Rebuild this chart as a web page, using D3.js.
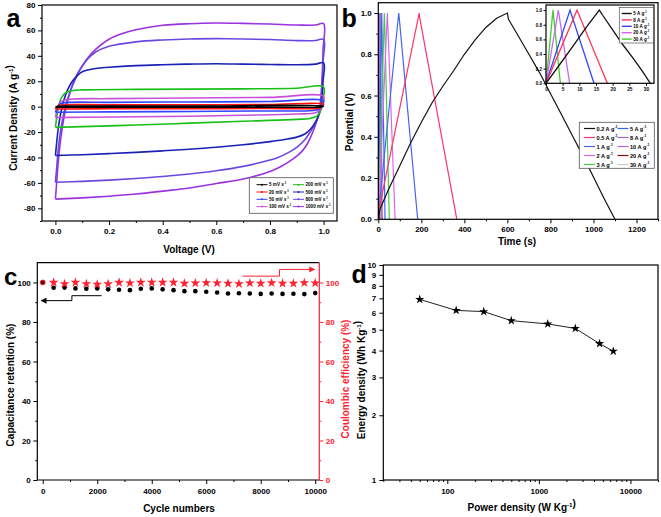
<!DOCTYPE html>
<html><head><meta charset="utf-8">
<script src="https://cdn.jsdelivr.net/npm/d3@7"></script>
<style>
body{margin:0;background:#fff}
svg{display:block}
text{font-family:"Liberation Sans",Arial,sans-serif;font-weight:bold}
</style>
</head><body>
<svg id="chart" width="661" height="517"></svg>
<script>
// ---------- Panel a: CV curves (Voltage V, Current density A/g) ----------
const cvRates = ["5","20","50","100","200","500","800","1000"];
const cvColors = ["#000000","#FF1010","#3343FF","#C850D8","#18C018","#1A22B4","#6A48E0","#9A32E0"];
const cv5 = [[0,-0.5],[0.01,0.2],[0.03,0.4],[0.5,0.4],[1.0,0.5],[0.99,-0.2],[0.97,-0.4],[0.5,-0.4],[0,-0.5]];
const cv20 = [[0,-1.8],[0.008,0],[0.02,1.2],[0.2,1.4],[0.5,1.5],[0.8,1.6],[1.0,1.9],[0.993,0],[0.98,-1.2],[0.8,-1.4],[0.5,-1.6],[0.2,-1.7],[0,-1.9]];
const cv50 = [[0,-4.3],[0.006,-1.5],[0.015,1.8],[0.03,3],[0.2,3.4],[0.5,3.7],[0.8,4],[1.0,4.5],[0.995,1],[0.985,-1.8],[0.96,-3],[0.8,-3.4],[0.5,-3.8],[0.2,-4.1],[0,-4.4]];
const cv100 = [[0,-8.5],[0.005,-4],[0.012,1],[0.025,4.5],[0.05,5.8],[0.2,6.3],[0.5,6.8],[0.8,7.3],[1.0,8],[0.996,2],[0.988,-2.5],[0.97,-4.8],[0.9,-5.8],[0.7,-6.8],[0.5,-7.5],[0.3,-8],[0.1,-8.4],[0,-8.6]];
const cv200 = [[0,-16],[0.004,-10],[0.01,-2],[0.02,6],[0.035,10.5],[0.06,12.5],[0.1,13.2],[0.3,13.6],[0.5,13.8],[0.7,14],[0.9,14.5],[1.0,15.5],[0.997,5],[0.99,-3],[0.975,-7.5],[0.95,-9.3],[0.9,-10],[0.7,-11.5],[0.5,-13],[0.3,-14.5],[0.1,-15.7],[0,-16.3]];
const cv500 = [[0,-38.5],[0.004,-30],[0.01,-18],[0.02,-5],[0.03,4],[0.045,13],[0.06,19],[0.08,24],[0.1,27.5],[0.15,30],[0.2,31],[0.3,32.3],[0.4,33],[0.5,33.5],[0.6,33.8],[0.7,33.5],[0.8,33.2],[0.9,33],[0.97,33.5],[1.0,34.5],[0.998,20],[0.994,5],[0.985,-5],[0.97,-12],[0.95,-18],[0.93,-21.5],[0.9,-24],[0.85,-26],[0.8,-27.5],[0.7,-30],[0.6,-32],[0.5,-33.5],[0.4,-34.8],[0.3,-36],[0.2,-37],[0.1,-37.8],[0,-38.5]];
const cv800 = [[0,-59.5],[0.004,-50],[0.01,-35],[0.02,-18],[0.035,-2],[0.05,9],[0.075,22],[0.1,32],[0.125,38.5],[0.15,43],[0.2,47.5],[0.3,51],[0.4,52.5],[0.5,53.3],[0.6,53.5],[0.7,53.3],[0.8,52.8],[0.9,52],[0.97,52],[1.0,53],[0.998,35],[0.994,15],[0.99,2],[0.98,-8],[0.965,-15],[0.95,-20],[0.93,-26],[0.9,-32],[0.87,-36],[0.83,-40],[0.8,-42],[0.7,-47],[0.6,-50.5],[0.5,-53],[0.4,-55],[0.3,-56.5],[0.2,-57.8],[0.1,-58.8],[0,-59.5]];
const cv1000 = [[0,-72.5],[0.004,-62],[0.01,-45],[0.02,-25],[0.035,-5],[0.05,8],[0.075,23],[0.1,32],[0.125,39.5],[0.15,45],[0.2,53],[0.25,57.5],[0.3,60.5],[0.4,64],[0.5,65.3],[0.6,65.8],[0.7,65.5],[0.8,65],[0.9,64.3],[0.97,64.2],[1.0,65.3],[0.998,45],[0.995,25],[0.99,8],[0.985,-2],[0.975,-11],[0.96,-20],[0.94,-29],[0.92,-35],[0.9,-39],[0.87,-43.5],[0.85,-46],[0.8,-51],[0.7,-57],[0.6,-60.5],[0.5,-64],[0.4,-66.5],[0.3,-68.8],[0.2,-70.5],[0.1,-71.8],[0,-72.8]];
const cvSeries = [cv5,cv20,cv50,cv100,cv200,cv500,cv800,cv1000];

// ---------- Panel b: GCD curves (Time s, Potential V) ----------
const cdRates = ["0.2","0.5","1","2","3","5","8","10","20","30"];
const cdColors = ["#111111","#FF3366","#4466EE","#DD66EE","#44CC44","#3366FF","#9966DD","#BB66DD","#7A1010","#C8C8C8"];
const cd02 = [[0,0],[8,0.05],[50,0.15],[100,0.26],[150,0.37],[200,0.47],[250,0.565],[300,0.645],[350,0.72],[400,0.8],[450,0.87],[500,0.93],[550,0.975],[600,1.0],[605,0.97],[650,0.89],[700,0.80],[750,0.71],[800,0.61],[850,0.51],[900,0.41],[950,0.31],[1000,0.205],[1050,0.10],[1100,0]];
const cd05 = [[0,0],[2,0.04],[190,1.0],[192,0.98],[365,0]];
const cd1 = [[0,0],[1,0.03],[95,1.0],[97,0.98],[183,0]];
const cd2 = [[0,0],[42,1.0],[43,0.98],[78,0]];
const cd3 = [[0,0],[28,1.0],[29,0.98],[51,0]];
const cd5 = [[0,0],[4,0.25],[8,0.5],[12,0.76],[16,1.0],[17,0.93],[20,0.73],[23,0.53],[26,0.35],[29,0.16],[31.3,0]];
const cd8 = [[0,0],[9.3,1.0],[18.4,0]];
const cd10 = [[0,0],[7.2,1.0],[14.4,0]];
const cd20 = [[0,0],[3.7,1.0],[7.1,0]];
const cd30 = [[0,0],[2.1,1.0],[4.3,0]];
const cdSeries = [cd02,cd05,cd1,cd2,cd3,cd5,cd8,cd10,cd20,cd30];
const insetRates = ["5","8","10","20","30"];
const insetColors = ["#111111","#FF3355","#3344FF","#CC66EE","#44CC33"];
const insetSeries = [cd5,cd8,cd10,cd20,cd30];

// ---------- Panel c: cycling ----------
const cycles = [0,400,800,1200,1600,2000,2400,2800,3200,3600,4000,4400,4800,5200,5600,6000,6400,6800,7200,7600,8000,8400,8800,9200,9600,10000];
const retention = [100,97.3,97.4,97.0,96.8,97.0,96.5,96.3,96.1,96.8,97.0,96.5,96.1,95.6,95.6,95.3,94.9,94.4,94.5,94.4,94.2,94.4,94.2,94.3,94.1,94.6];
const efficiency = [100,100,99.3,100,99.3,99.0,99.3,100,99.7,100,100,100,100,99.5,99.7,99.8,99.7,99.5,99.3,99.7,99.5,99.8,99.5,99.5,99.8,99.7];

// ---------- Panel d: Ragone ----------
const power = [50,125,250,500,1250,2500,4600,6500];
const energy = [6.92,6.15,6.07,5.51,5.32,5.07,4.31,3.97];

// ================= drawing =================
const svg = d3.select("#chart");

function rich(sel, parts, fs){
  parts.forEach(p=>{
    if (Array.isArray(p)) {
      sel.append("tspan").attr("font-size", fs*0.62).attr("dy", -fs*0.4).text(p[0]);
      sel.append("tspan").attr("font-size", fs).attr("dy", fs*0.4).text("");
    } else sel.append("tspan").text(p);
  });
  return sel;
}
function label(g, x, y, parts, fs, opt={}){
  const t = g.append("text").attr("x",x).attr("y",y).attr("font-size",fs)
    .attr("text-anchor", opt.anchor||"middle").attr("fill", opt.color||"#000");
  if (opt.rotate) t.attr("transform",`rotate(-90,${x},${y})`);
  return rich(t, parts, fs);
}
function axis(g, orient, scale, pos, values, size, fmt, fs, pad, color){
  const gen = (orient==="bottom"?d3.axisBottom:orient==="left"?d3.axisLeft:d3.axisRight)(scale)
    .tickValues(values).tickSize(size).tickSizeOuter(0).tickPadding(pad||2)
    .tickFormat(fmt || (()=> ""));
  const a = g.append("g").attr("transform", orient==="bottom"?`translate(0,${pos})`:`translate(${pos},0)`).call(gen);
  a.select(".domain").remove();
  a.attr("font-family",null).attr("font-size",fs||8).attr("font-weight","bold");
  a.selectAll("line").attr("stroke", color||"#000").attr("stroke-width",1);
  a.selectAll("text").attr("fill", color||"#000");
  return a;
}
function frame(g, x, y, color){
  const [x0,x1] = x.range(), [y1,y0] = y.range();
  g.append("rect").attr("x",x0).attr("y",y0).attr("width",x1-x0).attr("height",y1-y0)
   .attr("fill","none").attr("stroke",color||"#000").attr("stroke-width",1.2);
}
function clip(id, x, y){
  const [x0,x1] = x.range(), [y1,y0] = y.range();
  svg.append("clipPath").attr("id",id).append("rect").attr("x",x0).attr("y",y0).attr("width",x1-x0).attr("height",y1-y0);
}
const fmtPlain = d => String(d);
const fmt1 = d3.format(".1f");

// ---------- a ----------
{
  const g = svg.append("g");
  const x = d3.scaleLinear().domain([-0.05,1.05]).range([42,337]);
  const y = d3.scaleLinear().domain([-90,80]).range([221,5]);
  clip("ca", x, y);
  const line = d3.line().x(d=>x(d[0])).y(d=>y(d[1])).curve(d3.curveCatmullRom.alpha(0.5));
  const pg = g.append("g").attr("clip-path","url(#ca)");
  for (let i = cvSeries.length-1; i>=0; i--) {
    pg.append("path").attr("d", line(cvSeries[i])).attr("fill","none")
      .attr("stroke", cvColors[i]).attr("stroke-width",1.6);
  }
  axis(g,"bottom",x,221,d3.range(0,1.01,0.2),4,fmt1,8,3.5);
  axis(g,"bottom",x,221,d3.range(0.1,1.01,0.2),2);
  axis(g,"left",y,42,d3.range(-80,81,20),4,fmtPlain,8,2.5);
  axis(g,"left",y,42,d3.range(-90,81,20),2);
  frame(g,x,y);
  label(g,189,252.5,["Voltage (V)"],10);
  label(g,17,118,["Current Density (A g",["-1"],")"],10,{rotate:true});
  label(g,6.5,27.3,["a"],25,{anchor:"start"});
  // legend
  const lg = g.append("g");
  lg.append("rect").attr("x",249.3).attr("y",177.7).attr("width",84).attr("height",35.6)
    .attr("fill","#fff").attr("stroke","#555").attr("stroke-width",0.8);
  cvRates.forEach((r,i)=>{
    const col = Math.floor(i/4), row = i%4;
    const lx = col ? 293 : 256.5, ly = 184.7 + row*7.3;
    lg.append("line").attr("x1",lx).attr("x2",lx+11).attr("y1",ly).attr("y2",ly)
      .attr("stroke",cvColors[i]).attr("stroke-width",1);
    lg.append("circle").attr("cx",lx+5.5).attr("cy",ly).attr("r",1).attr("fill",cvColors[i]);
    label(lg,lx+12.5,ly+1.6,[r+" mV s",["-1"]],4.6,{anchor:"start"});
  });
}

// ---------- b ----------
{
  const g = svg.append("g");
  const x = d3.scaleLinear().domain([0,1300]).range([378.3,658]);
  const y = d3.scaleLinear().domain([0,1.05]).range([219.3,2.7]);
  clip("cb", x, y);
  const line = d3.line().x(d=>x(d[0])).y(d=>y(d[1]));
  const pg = g.append("g").attr("clip-path","url(#cb)");
  for (let i = cdSeries.length-1; i>=0; i--) {
    pg.append("path").attr("d", line(cdSeries[i])).attr("fill","none")
      .attr("stroke", cdColors[i]).attr("stroke-width",1.2);
  }
  axis(g,"bottom",x,219.3,d3.range(0,1201,200),4,fmtPlain,8,3.5);
  axis(g,"bottom",x,219.3,d3.range(100,1301,200),2);
  axis(g,"left",y,378.3,d3.range(0,1.01,0.2),4,fmt1,8,2.5);
  axis(g,"left",y,378.3,d3.range(0.1,1.01,0.2),2);
  frame(g,x,y);
  label(g,517,245,["Time (s)"],10);
  label(g,352.6,122,["Potential (V)"],10,{rotate:true});
  label(g,341.5,27.3,["b"],25,{anchor:"start"});
  // legend
  const lg = g.append("g");
  lg.append("rect").attr("x",579.3).attr("y",122.3).attr("width",75).attr("height",46)
    .attr("fill","#fff").attr("stroke","#555").attr("stroke-width",0.8);
  cdRates.forEach((r,i)=>{
    const col = Math.floor(i/5), row = i%5;
    const lx = col ? 617.5 : 584, ly = 128.5 + row*9;
    lg.append("line").attr("x1",lx).attr("x2",lx+11).attr("y1",ly).attr("y2",ly)
      .attr("stroke",cdColors[i]).attr("stroke-width",1.2);
    label(lg,lx+12.5,ly+2,[r+" A g",["-1"]],5.6,{anchor:"start"});
  });
  // inset
  const ix = d3.scaleLinear().domain([0,32.4]).range([546,654]);
  const iy = d3.scaleLinear().domain([0,1.07]).range([83.3,5]);
  const ig = g.append("g");
  ig.append("rect").attr("x",546).attr("y",5).attr("width",108).attr("height",78.3).attr("fill","#fff");
  const il = d3.line().x(d=>ix(d[0])).y(d=>iy(d[1]));
  for (let i = insetSeries.length-1; i>=0; i--) {
    ig.append("path").attr("d", il(insetSeries[i])).attr("fill","none")
      .attr("stroke", insetColors[i]).attr("stroke-width",1.3);
  }
  axis(ig,"bottom",ix,83.3,d3.range(0,31,5),2.5,fmtPlain,4.8,2);
  axis(ig,"left",iy,546,d3.range(0,1.01,0.2),2.5,fmt1,4.5,1.5);
  frame(ig,ix,iy);
  const il2 = ig.append("g");
  il2.append("rect").attr("x",619.3).attr("y",7.5).attr("width",34).attr("height",35.5)
    .attr("fill","#fff").attr("stroke","#555").attr("stroke-width",0.7);
  insetRates.forEach((r,i)=>{
    const ly = 13.5 + i*6.4;
    il2.append("line").attr("x1",621.7).attr("x2",631.7).attr("y1",ly).attr("y2",ly)
      .attr("stroke",insetColors[i]).attr("stroke-width",1.4);
    label(il2,633.3,ly+1.6,[r+" A g",["-1"]],4.6,{anchor:"start"});
  });
}

// ---------- c ----------
{
  const g = svg.append("g");
  const x = d3.scaleLinear().domain([-200,10150]).range([37.3,319.3]);
  const y = d3.scaleLinear().domain([0,110]).range([480,262.7]);
  axis(g,"bottom",x,480,d3.range(0,10001,2000),4,fmtPlain,8,4);
  axis(g,"bottom",x,480,d3.range(1000,10001,2000),2);
  axis(g,"left",y,37.3,d3.range(0,101,20),4,fmtPlain,8,2.5);
  axis(g,"left",y,37.3,d3.range(10,101,20),2);
  axis(g,"right",y,319.3,d3.range(0,101,20),4,fmtPlain,8,2.5,"#FF2030");
  axis(g,"right",y,319.3,d3.range(10,101,20),2,null,8,2,"#FF2030");
  const [x0,x1]=x.range(),[y1,y0]=y.range();
  g.append("path").attr("d",`M${x1},${y0}H${x0}V${y1}H${x1}`).attr("fill","none").attr("stroke","#000").attr("stroke-width",1.2);
  g.append("line").attr("x1",x1).attr("x2",x1).attr("y1",y0).attr("y2",y1).attr("stroke","#FF2030").attr("stroke-width",1.2);
  g.selectAll("circle.ret").data(cycles).join("circle").attr("class","ret")
    .attr("cx",(d)=>x(d)).attr("cy",(d,i)=>y(retention[i])).attr("r",2.3).attr("fill","#000");
  const star = d3.symbol().type(d3.symbolStar).size(30);
  g.selectAll("path.eff").data(cycles.slice(1)).join("path").attr("class","eff")
    .attr("d",star).attr("transform",(d,i)=>`translate(${x(d)},${y(efficiency[i+1])})`).attr("fill","#FF2030");
  g.append("circle").attr("cx",x(cycles[0])).attr("cy",y(efficiency[0])).attr("r",2.4)
    .attr("fill","#600").attr("stroke","#FF2030").attr("stroke-width",1);
  // arrows
  const defs = svg.append("defs");
  [["ab","#000"],["ar","#FF2030"]].forEach(([id,c])=>{
    defs.append("marker").attr("id",id).attr("viewBox","0 0 10 10").attr("refX",9).attr("refY",5)
      .attr("markerWidth",6).attr("markerHeight",6).attr("orient","auto-start-reverse").attr("markerUnits","userSpaceOnUse")
      .append("path").attr("d","M0,0L10,5L0,10z").attr("fill",c);
  });
  const al = d3.line().x(d=>x(d[0])).y(d=>y(d[1]));
  g.append("path").attr("d",al([[2160,93.3],[1070,93.3],[1070,90.8],[-60,90.8]])).attr("fill","none")
    .attr("stroke","#000").attr("stroke-width",1).attr("marker-end","url(#ab)");
  g.append("path").attr("d",al([[7330,103.2],[8690,103.2],[8690,106.6],[9980,106.6]])).attr("fill","none")
    .attr("stroke","#FF2030").attr("stroke-width",1).attr("marker-end","url(#ar)");
  label(g,179,511.7,["Cycle numbers"],10);
  label(g,13.6,385,["Capacitance retention (%)"],10,{rotate:true});
  label(g,349,379,["Coulombic efficiency (%)"],10,{rotate:true,color:"#FF2030"});
  label(g,4,285,["c"],24,{anchor:"start"});
}

// ---------- d ----------
{
  const g = svg.append("g");
  const x = d3.scaleLog().domain([20,20000]).range([383.3,658]);
  const y = d3.scaleLog().domain([1,10]).range([480,265]);
  const minors = [];
  [10,100,1000,10000].forEach(b=>{ for(let k=2;k<=9;k++){ const v=b*k; if(v>=20&&v<=20000) minors.push(v);} });
  minors.push(20000);
  axis(g,"bottom",x,480,[100,1000,10000],4,fmtPlain,8,4);
  axis(g,"bottom",x,480,minors,2);
  axis(g,"left",y,383.3,d3.range(1,11,1),4,fmtPlain,8,3);
  frame(g,x,y);
  const line = d3.line().x((d,i)=>x(power[i])).y((d,i)=>y(energy[i]));
  g.append("path").attr("d",line(power)).attr("fill","none").attr("stroke","#222").attr("stroke-width",1);
  const star = d3.symbol().type(d3.symbolStar).size(26);
  g.selectAll("path.st").data(power).join("path").attr("class","st")
    .attr("d",star).attr("transform",(d,i)=>`translate(${x(d)},${y(energy[i])})`).attr("fill","#000");
  label(g,521.7,510.7,["Power density (W Kg",["-1"],")"],10);
  label(g,365,380,["Energy density (Wh Kg",["-1"],")"],10,{rotate:true});
  label(g,351.5,282.7,["d"],25,{anchor:"start"});
}
</script>
</body></html>
